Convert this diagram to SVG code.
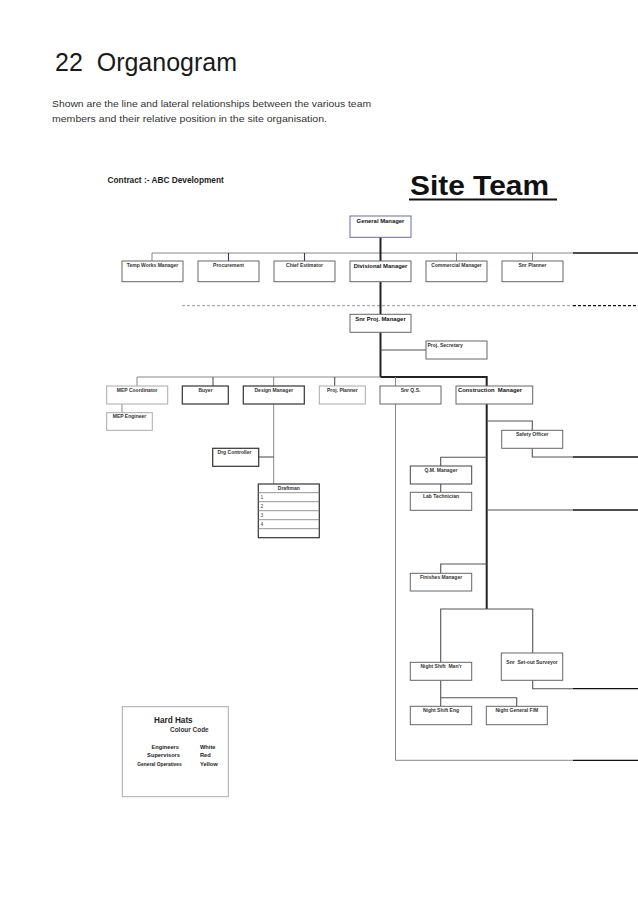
<svg xmlns="http://www.w3.org/2000/svg" width="638" height="903" viewBox="0 0 638 903" xml:space="preserve">
<style>
text{font-family:"Liberation Sans",Arial,sans-serif;white-space:pre}
.bg{fill:#fff}
.box{fill:#fff;stroke:#666;stroke-width:1}
.bl{fill:#fff;stroke:#aaa;stroke-width:1}
.bd{fill:#fff;stroke:#333;stroke-width:1.2}
.bb{fill:#fff;stroke:#6a6aa8;stroke-width:1}
.lbl{font-size:5px;font-weight:bold;fill:#333;text-anchor:middle}
.lbs{font-size:5px;font-weight:bold;fill:#333;text-anchor:start}
.num{font-size:5px;fill:#444;text-anchor:start}
.big{font-size:5.9px;font-weight:bold;fill:#111;text-anchor:middle}
.ln{fill:none;stroke:#888;stroke-width:1}
.lnd{fill:none;stroke:#555;stroke-width:1.1}
.blue{fill:none;stroke:#33337f;stroke-width:1.1}
.thick{fill:none;stroke:#222;stroke-width:2}
.ext{fill:none;stroke:#111;stroke-width:1.3}
.dash{fill:none;stroke:#999;stroke-width:1;stroke-dasharray:3 2}
.dashk{fill:none;stroke:#111;stroke-width:1.2;stroke-dasharray:3 2}
.grid{fill:none;stroke:#777;stroke-width:0.8}
.key{font-size:5.7px;font-weight:bold;fill:#222}
</style>
<rect class="bg" x="0" y="0" width="638" height="903"/>

<g id="header">
<text x="55" y="71" font-size="25" fill="#1a1a1a">22  Organogram</text>
<text x="52" y="107" font-size="9.8" fill="#333" textLength="319" lengthAdjust="spacingAndGlyphs">Shown are the line and lateral relationships between the various team</text>
<text x="52" y="122" font-size="9.8" fill="#333" textLength="275" lengthAdjust="spacingAndGlyphs">members and their relative position in the site organisation.</text>
<text x="107.5" y="182.5" font-size="8.3" font-weight="bold" fill="#222">Contract :- ABC Development</text>
<text x="410" y="195" font-size="28.5" font-weight="bold" fill="#111" textLength="139" lengthAdjust="spacingAndGlyphs">Site Team</text>
<line x1="409" y1="199.5" x2="557" y2="199.5" stroke="#111" stroke-width="2"/>
</g>

<g id="connectors">
<polyline class="ln" points="152,261 152,253 573,253"/>
<line class="ext" x1="573" y1="253" x2="638" y2="253"/>
<line class="blue" x1="228.5" y1="253" x2="228.5" y2="261"/>
<line class="blue" x1="304.5" y1="253" x2="304.5" y2="261"/>
<line class="ln" x1="456.5" y1="253" x2="456.5" y2="261"/>
<line class="ln" x1="532.5" y1="253" x2="532.5" y2="261"/>
<line class="thick" x1="380.5" y1="237" x2="380.5" y2="261"/>
<line class="dash" x1="182" y1="305.7" x2="573" y2="305.7"/>
<line class="dashk" x1="573" y1="305.7" x2="638" y2="305.7"/>
<line class="thick" x1="380.5" y1="282" x2="380.5" y2="314.3"/>
<line class="thick" x1="380.5" y1="332.3" x2="380.5" y2="377"/>
<line class="lnd" x1="380.5" y1="350" x2="426" y2="350"/>
<polyline class="ln" points="137,386 137,377 380.5,377"/>
<polyline class="thick" points="380.5,377 486.7,377 486.7,386"/>
<line class="lnd" x1="213" y1="377" x2="213" y2="386"/>
<line class="ln" x1="273.7" y1="377" x2="273.7" y2="386"/>
<line class="lnd" x1="334.7" y1="377" x2="334.7" y2="386"/>
<line class="ln" x1="395.5" y1="377" x2="395.5" y2="386"/>
<line class="ln" x1="122" y1="404" x2="122" y2="412.7"/>
<line class="ln" x1="273.7" y1="404" x2="273.7" y2="484"/>
<line class="lnd" x1="258.7" y1="457" x2="273.7" y2="457"/>
<polyline class="ln" points="395.5,404 395.5,760.3 573,760.3"/>
<line class="ext" x1="573" y1="760.3" x2="638" y2="760.3"/>
<line class="thick" x1="486.7" y1="404" x2="486.7" y2="609"/>
<polyline class="lnd" points="486.7,421 532.3,421 532.3,430.3"/>
<polyline class="lnd" points="532.3,448.3 532.3,457 573,457"/>
<line class="ext" x1="573" y1="457" x2="638" y2="457"/>
<polyline class="lnd" points="486.7,457.3 440.7,457.3 440.7,466"/>
<line class="lnd" x1="440.7" y1="484" x2="440.7" y2="492.3"/>
<line class="lnd" x1="486.7" y1="510" x2="573" y2="510" stroke-width="1.4"/>
<line class="ext" x1="573" y1="510" x2="638" y2="510"/>
<polyline class="lnd" points="486.7,564 440.7,564 440.7,573.3"/>
<polyline class="lnd" points="440.7,662.3 440.7,609 532.7,609 532.7,653"/>
<polyline class="lnd" points="532.7,680.3 532.7,688.7 573,688.7"/>
<line class="ext" x1="573" y1="688.7" x2="638" y2="688.7"/>
<line class="lnd" x1="440.7" y1="680.3" x2="440.7" y2="706.3"/>
<polyline class="lnd" points="440.7,697.7 516.7,697.7 516.7,706.3"/>
</g>

<g id="general-manager"><rect class="bb" x="350" y="216" width="61" height="21.3"/><text class="big" x="380.5" y="222.8" font-size="5.8">General Manager</text></g>
<g id="temp-works-manager"><rect class="box" x="122" y="261" width="61" height="20.7"/><text class="lbl" x="152.5" y="267.3">Temp Works Manager</text></g>
<g id="procurement"><rect class="box" x="198" y="261" width="61" height="20.7"/><text class="lbl" x="228.5" y="267.3">Procurement</text></g>
<g id="chief-estimator"><rect class="box" x="274" y="261" width="61" height="20.7"/><text class="lbl" x="304.5" y="267.3">Chief Estimator</text></g>
<g id="divisional-manager"><rect class="box" x="350" y="261" width="61" height="20.7"/><text class="big" x="380.5" y="267.5" font-size="6">Divisional Manager</text></g>
<g id="commercial-manager"><rect class="box" x="426" y="261" width="61" height="20.7"/><text class="lbl" x="456.5" y="267.3">Commercial Manager</text></g>
<g id="snr-planner"><rect class="box" x="502" y="261" width="61" height="20.7"/><text class="lbl" x="532.5" y="267.3">Snr Planner</text></g>

<g id="snr-proj-manager"><rect class="box" x="350" y="314.3" width="61" height="18"/><text class="big" x="380.5" y="320.5">Snr Proj. Manager</text></g>
<g id="proj-secretary"><rect class="box" x="426" y="341" width="61" height="18"/><text class="lbs" x="427.5" y="346.5">Proj. Secretary</text></g>

<g id="mep-coordinator"><rect class="bl" x="106.7" y="386" width="61" height="18"/><text class="lbl" x="137.2" y="391.8">MEP Coordinator</text></g>
<g id="buyer"><rect class="bd" x="182.3" y="386" width="46" height="18"/><text class="lbl" x="205.5" y="391.8">Buyer</text></g>
<g id="design-manager"><rect class="bd" x="243.3" y="386" width="61" height="18"/><text class="lbl" x="273.8" y="391.8">Design Manager</text></g>
<g id="proj-planner"><rect class="bl" x="319.3" y="386" width="46" height="18"/><text class="lbl" x="342.3" y="391.8">Proj. Planner</text></g>
<g id="snr-qs"><rect class="box" x="380" y="386" width="61" height="18"/><text class="lbl" x="410.5" y="391.8">Snr Q.S.</text></g>
<g id="construction-manager"><rect class="box" x="456" y="386" width="76.7" height="18"/><text class="big" x="490" y="392.3" font-size="6.1">Construction  Manager</text></g>
<g id="mep-engineer"><rect class="bl" x="106.7" y="412.7" width="45.6" height="17.6"/><text class="lbl" x="129.5" y="418.3">MEP Engineer</text></g>

<g id="drg-controller"><rect class="bd" x="212.7" y="448.3" width="46" height="18"/><text class="lbl" x="234.5" y="454">Drg Controller</text></g>
<g id="draftman">
<rect class="bd" x="258.3" y="484" width="61" height="53.7"/>
<line class="grid" x1="258.3" y1="492.7" x2="319.3" y2="492.7"/>
<line class="grid" x1="258.3" y1="501.7" x2="319.3" y2="501.7"/>
<line class="grid" x1="258.3" y1="510.7" x2="319.3" y2="510.7"/>
<line class="grid" x1="258.3" y1="519.7" x2="319.3" y2="519.7"/>
<line class="grid" x1="258.3" y1="528.7" x2="319.3" y2="528.7"/>
<text class="lbl" x="288.8" y="490.3">Draftman</text>
<text class="num" x="260.5" y="499">1</text>
<text class="num" x="260.5" y="508">2</text>
<text class="num" x="260.5" y="517">3</text>
<text class="num" x="260.5" y="526">4</text>
</g>

<g id="safety-officer"><rect class="box" x="501.7" y="430.3" width="61" height="18"/><text class="lbl" x="532.2" y="436">Safety Officer</text></g>
<g id="qm-manager"><rect class="box" x="410.3" y="466" width="61.4" height="18" style="stroke:#444"/><text class="lbl" x="441" y="471.7">Q.M. Manager</text></g>
<g id="lab-technician"><rect class="box" x="410.3" y="492.3" width="61.4" height="18"/><text class="lbl" x="441" y="498">Lab Technician</text></g>
<g id="finishes-manager"><rect class="box" x="410.3" y="573.3" width="61.4" height="17.7"/><text class="lbl" x="441" y="579">Finishes Manager</text></g>
<g id="night-shift-manr"><rect class="box" x="410.3" y="662.3" width="61.4" height="18"/><text class="lbl" x="441" y="668">Night Shift  Man'r</text></g>
<g id="snr-setout-surveyor"><rect class="box" x="501.3" y="653" width="61.4" height="27.3"/><text class="lbl" x="532" y="664.3">Snr  Set-out Surveyor</text></g>
<g id="night-shift-eng"><rect class="box" x="410.3" y="706.3" width="61.4" height="18.4"/><text class="lbl" x="441" y="712">Night Shift Eng</text></g>
<g id="night-general-fm"><rect class="box" x="486.3" y="706.3" width="61" height="18.4"/><text class="lbl" x="516.8" y="712">Night General F/M</text></g>

<g id="hard-hats-key">
<rect x="122.3" y="706.7" width="106" height="90" fill="#fff" stroke="#aaa" stroke-width="1"/>
<text x="154" y="723" font-size="8.2" font-weight="bold" fill="#222">Hard Hats</text>
<text x="170" y="731.7" font-size="6.4" font-weight="bold" fill="#333" textLength="38.7" lengthAdjust="spacingAndGlyphs">Colour Code</text>
<text class="key" x="179" y="748.7" text-anchor="end">Engineers</text>
<text class="key" x="180" y="757" text-anchor="end">Supervisors</text>
<text class="key" x="181.7" y="765.7" text-anchor="end" textLength="44.4" lengthAdjust="spacingAndGlyphs" font-size="5.2">General Operatives</text>
<text class="key" x="200" y="748.7">White</text>
<text class="key" x="200" y="757">Red</text>
<text class="key" x="200" y="765.7">Yellow</text>
</g>
</svg>
